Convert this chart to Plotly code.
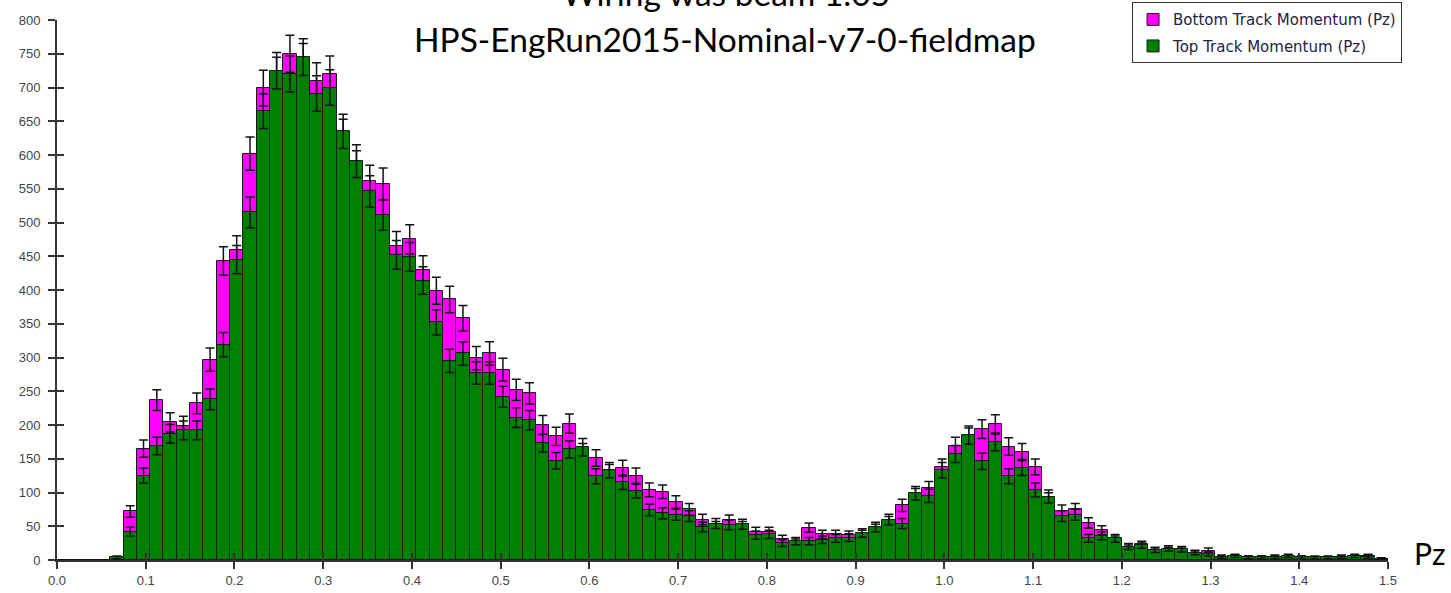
import numpy as np
import plotly.graph_objects as go

# ---- data (100 bins of width 0.015 from 0 to 1.5) ----
BIN_WIDTH = 0.015
N_BINS = 100
bin_centers = np.arange(N_BINS) * BIN_WIDTH + BIN_WIDTH / 2

top_counts = [
    0, 0, 0, 0, 4, 42, 125, 169, 187, 192,
    192, 238, 319, 445, 515, 665, 725, 720, 745, 691,
    700, 635, 591, 546, 511, 452, 449, 414, 352, 295,
    306, 277, 277, 242, 211, 207, 173, 147, 164, 167,
    124, 133, 115, 102, 74, 69, 67, 65, 49, 54,
    52, 53, 37, 38, 25, 28, 28, 30, 32, 33,
    40, 49, 60, 54, 99, 95, 133, 157, 185, 146,
    175, 124, 137, 104, 94, 65, 67, 32, 36, 32,
    20, 22, 15, 17, 16, 11, 9, 5, 6, 4,
    4, 4, 6, 4, 4, 4, 5, 6, 5, 2,
]
bottom_counts = [
    0, 0, 0, 0, 3, 72, 165, 237, 204, 199,
    232, 297, 443, 459, 602, 699, 718, 750, 738, 710,
    720, 628, 582, 561, 557, 465, 475, 430, 399, 386,
    358, 299, 306, 282, 252, 247, 200, 183, 202, 160,
    151, 130, 136, 125, 104, 101, 86, 75, 60, 50,
    59, 50, 42, 42, 31, 26, 48, 38, 38, 37,
    38, 46, 57, 81, 96, 106, 138, 169, 182, 194,
    201, 168, 160, 138, 90, 73, 75, 55, 44, 30,
    18, 23, 14, 15, 14, 10, 14, 4, 5, 4,
    4, 5, 5, 4, 3, 3, 4, 5, 6, 2,
]
x_tick_vals = [round(0.1 * i, 1) for i in range(16)]
x_tick_text = [f"{v:.1f}" for v in x_tick_vals]
y_tick_vals = list(range(0, 801, 50))

title_line1 = "Wiring was beam 1.05"
title_line2 = "HPS-EngRun2015-Nominal-v7-0-fieldmap"
axis_label = "Pz"

MAGENTA = "#FF00FF"
GREEN = "#008000"
OUTLINE = "#1a1a1a"

err_style = dict(type="data", visible=True, color="#111111", thickness=1.5, width=4.5)

fig = go.Figure()
fig.add_trace(go.Bar(
    x=bin_centers, y=bottom_counts, width=BIN_WIDTH,
    name="Bottom Track Momentum (Pz)", legendgroup="bottom",
    marker=dict(color=MAGENTA, line=dict(color=OUTLINE, width=1)),
    error_y=dict(array=np.sqrt(bottom_counts), **err_style),
))
fig.add_trace(go.Bar(
    x=bin_centers, y=top_counts, width=BIN_WIDTH,
    name="Top Track Momentum (Pz)", legendgroup="top",
    marker=dict(color=GREEN, line=dict(color=OUTLINE, width=1)),
    error_y=dict(array=np.sqrt(top_counts), **err_style),
))
# empty trace to activate the overlay axes (inner half of crossing ticks)
fig.add_trace(go.Scatter(x=[], y=[], xaxis="x2", yaxis="y2", showlegend=False, hoverinfo="skip"))

tick_font = dict(family="Liberation Sans, Arial, sans-serif", size=13, color="#444444")
axis_common = dict(showgrid=False, zeroline=False, showline=True, linecolor="#333333", linewidth=2,
                   tickcolor="#333333", tickwidth=2, ticklen=7, automargin=False)

fig.update_layout(
    width=1451, height=593,
    margin=dict(l=57, r=63, t=20, b=33, autoexpand=False),
    paper_bgcolor="white", plot_bgcolor="white",
    barmode="overlay", bargap=0,
    showlegend=True,
    legend=dict(
        x=0.8077, y=1.033, xanchor="left", yanchor="top",
        bgcolor="white", bordercolor="#333333", borderwidth=1,
        font=dict(family="DejaVu Sans, sans-serif", size=15, color="#222244"),
        traceorder="grouped", tracegroupgap=4,
    ),
    xaxis=dict(range=[0, 1.5], tickvals=x_tick_vals, ticktext=x_tick_text, ticks="outside",
               tickfont=tick_font, **axis_common),
    yaxis=dict(range=[0, 800], tickvals=y_tick_vals, ticks="outside", tickfont=tick_font,
               ticklabelstandoff=5, **axis_common),
    xaxis2=dict(range=[0, 1.5], overlaying="x", anchor="y", side="bottom", tickvals=x_tick_vals,
                ticks="inside", showticklabels=False, showgrid=False, zeroline=False, showline=False,
                tickcolor="#333333", tickwidth=2, ticklen=7, automargin=False),
    yaxis2=dict(range=[0, 800], overlaying="y", anchor="x", side="left", tickvals=y_tick_vals,
                ticks="inside", showticklabels=False, showgrid=False, zeroline=False, showline=False,
                tickcolor="#333333", tickwidth=2, ticklen=7, automargin=False),
    annotations=[
        dict(text=title_line1, xref="paper", yref="paper", x=0.5026, y=1.0093,
             xanchor="center", yanchor="bottom", showarrow=False,
             font=dict(family="Lato, sans-serif", size=33.5, color="black")),
        dict(text=title_line2, xref="paper", yref="paper", x=0.502, y=0.924,
             xanchor="center", yanchor="bottom", showarrow=False,
             font=dict(family="Lato, sans-serif", size=33.5, color="black")),
        dict(text=axis_label, xref="paper", yref="paper", x=1.018, y=0.013,
             xanchor="left", yanchor="middle", showarrow=False,
             font=dict(family="Lato, sans-serif", size=30, color="black")),
    ],
)

fig.write_html(
    "out.html",
    config={"displayModeBar": False},
    post_script="document.body.style.margin='0';document.body.style.overflow='hidden';",
)
